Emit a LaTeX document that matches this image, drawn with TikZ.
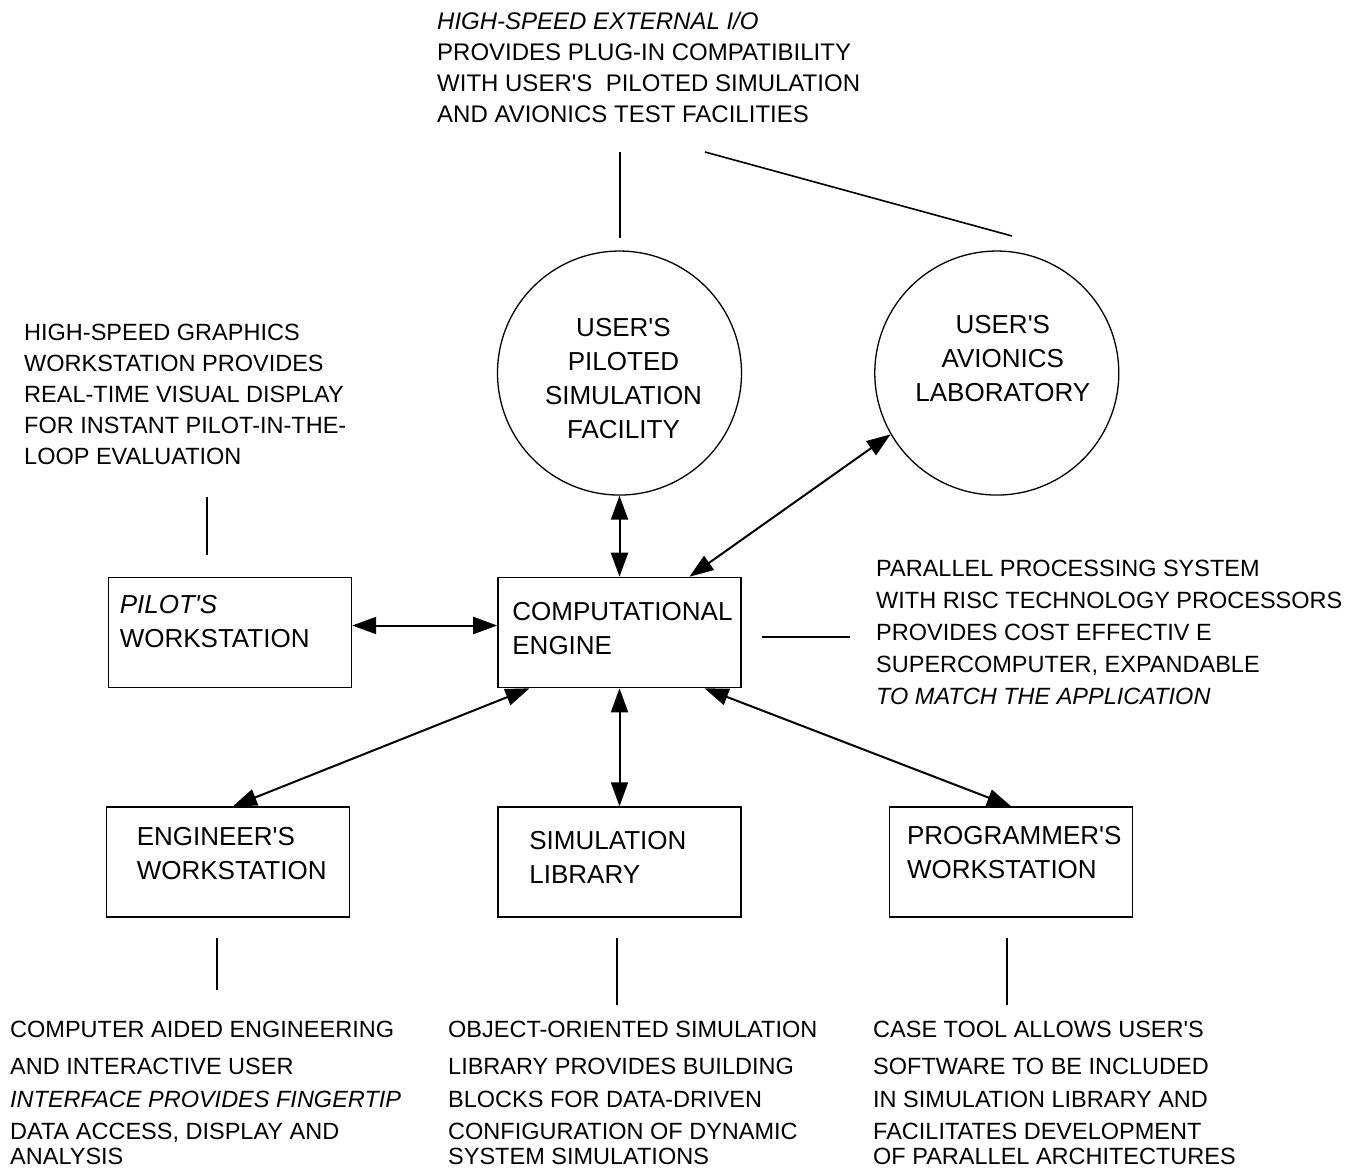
\documentclass[tikz,border=0pt]{standalone}
\usepackage{fontspec}
\setmainfont{Liberation Sans}[Ligatures=TeXOff]
\usetikzlibrary{positioning,arrows.meta}

\tikzset{
  unit/.style={draw, line width=1.6pt, minimum width=243pt, minimum height=110pt, inner sep=0pt},
  facility/.style={draw, circle, line width=1.3pt, minimum size=244pt, inner sep=0pt},
  unitlabel/.style={inner sep=0pt, align=left, font=\fontsize{26}{34}\selectfont},
  facilitylabel/.style={inner sep=0pt, align=center, font=\fontsize{26}{34}\selectfont},
  note/.style={inner sep=0pt, anchor=north west, align=left, font=\fontsize{23.5}{31}\selectfont},
  link/.style={{Triangle[length=24pt,width=17pt]}-{Triangle[length=24pt,width=17pt]}, line width=2pt},
  leader/.style={line width=1.6pt}
}

\begin{document}
\begin{tikzpicture}[x=1pt,y=-1pt]
\path[fill=white, use as bounding box] (0,0) rectangle (1358,1174);

% boxes and facilities
\node[unit] (engine) at (619.5,632.5) {};
\node[unit, left=145pt of engine] (pilot) {};
\node[unit, below=118pt of engine] (simlib) {};
\node[unit, left=147pt of simlib] (engineer) {};
\node[unit, right=147pt of simlib] (programmer) {};
\node[facility, above=81pt of engine] (pilotsim) {};
\node[facility, right=132pt of pilotsim] (avionics) {};

% their labels
\node[unitlabel, below right=18pt and 12pt of pilot.north west] (pilottext) {\textit{PILOT'S}\\WORKSTATION};
\node[unitlabel, below right=25pt and 15pt of engine.north west] (enginetext) {COMPUTATIONAL\\ENGINE};
\node[unitlabel, below right=21pt and 31pt of engineer.north west] (engineertext) {ENGINEER'S\\WORKSTATION};
\node[unitlabel, below right=25pt and 32pt of simlib.north west] (simlibtext) {SIMULATION\\LIBRARY};
\node[unitlabel, below right=20pt and 18pt of programmer.north west] (programmertext) {PROGRAMMER'S\\WORKSTATION};
\node[facilitylabel, below=68pt of pilotsim.north, xshift=4pt] (pilotsimtext) {USER'S\\PILOTED\\SIMULATION\\FACILITY};
\node[facilitylabel, below=65pt of avionics.north, xshift=6pt] (avionicstext) {USER'S\\AVIONICS\\LABORATORY};

% notes
\node[note, font=\fontsize{24}{31}\selectfont] (ionote) at (437,11.6) {\textit{HIGH-SPEED EXTERNAL I/O}\\PROVIDES PLUG-IN COMPATIBILITY\\WITH USER'S\ \ PILOTED SIMULATION\\AND AVIONICS TEST FACILITIES};
\node[note] (gfxnote) at (24,323.6) {HIGH-SPEED GRAPHICS\\WORKSTATION PROVIDES\\REAL-TIME VISUAL DISPLAY\\FOR INSTANT PILOT-IN-THE-\\LOOP EVALUATION};
\node[note, font=\fontsize{23.5}{32}\selectfont] (risknote) at (876,559.6) {PARALLEL PROCESSING SYSTEM\\WITH RISC TECHNOLOGY PROCESSORS\\PROVIDES COST EFFECTIV E\\SUPERCOMPUTER, EXPANDABLE\\\textit{TO MATCH THE APPLICATION}};
\node[note, font=\fontsize{23.5}{32}\selectfont] (caenote) at (10,1021) {COMPUTER AIDED ENGINEERING\\[5pt]AND INTERACTIVE USER\\[1pt]\textit{INTERFACE PROVIDES FINGERTIP}\\DATA ACCESS, DISPLAY AND\\[-7pt]ANALYSIS};
\node[note, font=\fontsize{23.5}{32}\selectfont] (oopnote) at (448,1021) {OBJECT-ORIENTED SIMULATION\\[5pt]LIBRARY PROVIDES BUILDING\\[1pt]BLOCKS FOR DATA-DRIVEN\\CONFIGURATION OF DYNAMIC\\[-7pt]SYSTEM SIMULATIONS};
\node[note, font=\fontsize{23.5}{32}\selectfont] (casenote) at (873,1021) {CASE TOOL ALLOWS USER'S\\[5pt]SOFTWARE TO BE INCLUDED\\[1pt]IN SIMULATION LIBRARY AND\\FACILITATES DEVELOPMENT\\[-7pt]OF PARALLEL ARCHITECTURES};

% leader ends
\coordinate (ioA) at (620,152);  \coordinate (ioB) at (620,238);
\coordinate (ioC) at (705,152);  \coordinate (ioD) at (1012,236);
\coordinate (gfxA) at (207,497); \coordinate (gfxB) at (207,555);
\coordinate (riscA) at (762,637); \coordinate (riscB) at (850,637);
\coordinate (caeA) at (217,938); \coordinate (caeB) at (217,990);
\coordinate (oopA) at (617,938); \coordinate (oopB) at (617,1005);
\coordinate (caseA) at (1007,938); \coordinate (caseB) at (1007,1005);

\draw[leader] (ioA) -- (ioB);
\draw[leader] (ioC) -- (ioD);
\draw[leader] (gfxA) -- (gfxB);
\draw[leader] (riscA) -- (riscB);
\draw[leader] (caeA) -- (caeB);
\draw[leader] (oopA) -- (oopB);
\draw[leader] (caseA) -- (caseB);

% links to the engine
\draw[link] ([yshift=7pt]pilot.east) -- ([yshift=7pt]engine.west);
\draw[link] (engine.north) -- (pilotsim.south);
\draw[link] ([xshift=70pt]engine.north) -- (avionics.210);
\draw[link] ([xshift=-90pt]engine.south) -- ([xshift=5pt]engineer.north);
\draw[link] (engine.south) -- (simlib.north);
\draw[link] ([xshift=85pt]engine.south) -- (programmer.north);

\end{tikzpicture}
\end{document}
